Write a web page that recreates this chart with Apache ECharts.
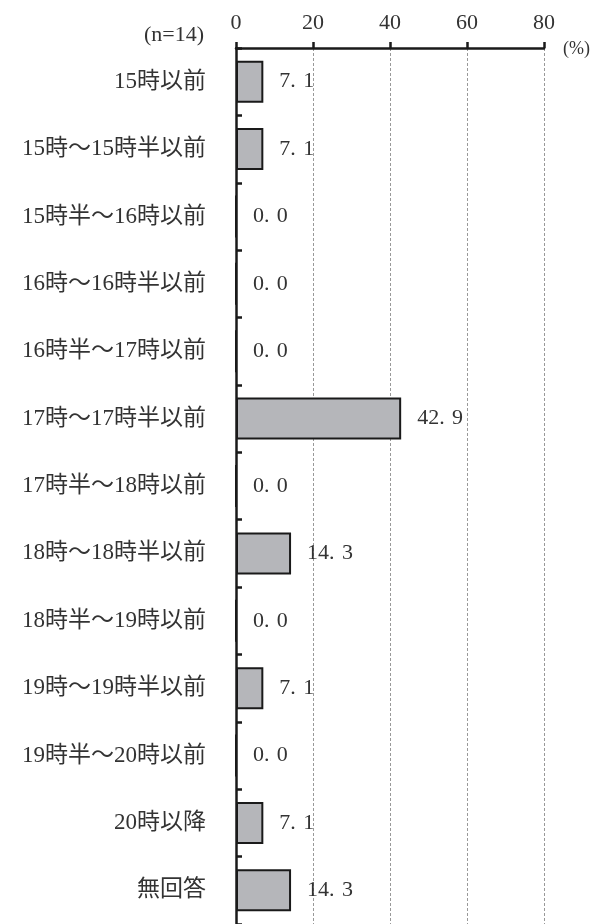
<!DOCTYPE html>
<html>
<head>
<meta charset="utf-8">
<script src="https://cdn.jsdelivr.net/npm/echarts@6/dist/echarts.min.js"></script>
<style>
html, body { margin: 0; padding: 0; background: #fff; }
#chart { width: 593px; height: 924px; }
</style>
</head>
<body>
<div id="chart"></div>
<script>
// Departure time categories, top to bottom
var categories = [
  '15時以前',
  '15時～15時半以前',
  '15時半～16時以前',
  '16時～16時半以前',
  '16時半～17時以前',
  '17時～17時半以前',
  '17時半～18時以前',
  '18時～18時半以前',
  '18時半～19時以前',
  '19時～19時半以前',
  '19時半～20時以前',
  '20時以降',
  '無回答'
];
// Share of respondents (%)
var values = [7.1, 7.1, 0.0, 0.0, 0.0, 42.9, 0.0, 14.3, 0.0, 7.1, 0.0, 7.1, 14.3];
// Value axis ticks
var axisMin = 0, axisMax = 80, axisStep = 20;
var sampleNote = '(n=14)';
var unitNote = '(%)';

var FONT = '"Liberation Serif", "Noto Sans CJK JP", serif';

var chart = echarts.init(document.getElementById('chart'), null, { renderer: 'canvas' });
chart.setOption({
  animation: false,
  backgroundColor: '#ffffff',
  grid: { left: 236, right: 49, top: 48, bottom: -5, containLabel: false },
  xAxis: {
    type: 'value',
    position: 'top',
    min: axisMin,
    max: axisMax,
    interval: axisStep,
    axisLine: { show: true, lineStyle: { color: '#1a1a1a', width: 2.5 } },
    axisTick: { show: true, inside: false, length: 6, lineStyle: { color: '#1a1a1a', width: 2.5 } },
    axisLabel: { margin: 14, color: '#333', fontFamily: FONT, fontSize: 22 },
    splitLine: { show: true, lineStyle: { color: '#999', width: 1, type: [3, 2] } }
  },
  yAxis: {
    type: 'category',
    data: categories,
    inverse: true,
    axisLine: { show: true, lineStyle: { color: '#1a1a1a', width: 2.5 } },
    axisTick: { show: true, inside: true, length: 6, lineStyle: { color: '#1a1a1a', width: 2.5 } },
    axisLabel: { margin: 30, color: '#333', fontFamily: FONT, fontSize: 23 },
    splitLine: { show: false }
  },
  series: [{
    type: 'bar',
    data: values,
    barWidth: 42,
    itemStyle: { color: '#b5b6ba', borderColor: '#1a1a1a', borderWidth: 2 },
    label: {
      show: true,
      position: 'right',
      distance: 16,
      color: '#333',
      fontFamily: FONT,
      fontSize: 22,
      // decimal point followed by a three-per-em space
      formatter: function (p) { return p.value.toFixed(1).replace('.', '.\u2004'); }
    }
  }],
  graphic: [
    {
      type: 'text', right: 593 - 204, top: 24,
      style: { text: sampleNote, fill: '#333', font: '22px ' + FONT, textAlign: 'right' }
    },
    {
      type: 'text', left: 563, top: 40,
      style: { text: unitNote, fill: '#333', font: '18px ' + FONT }
    }
  ]
});
</script>
</body>
</html>
